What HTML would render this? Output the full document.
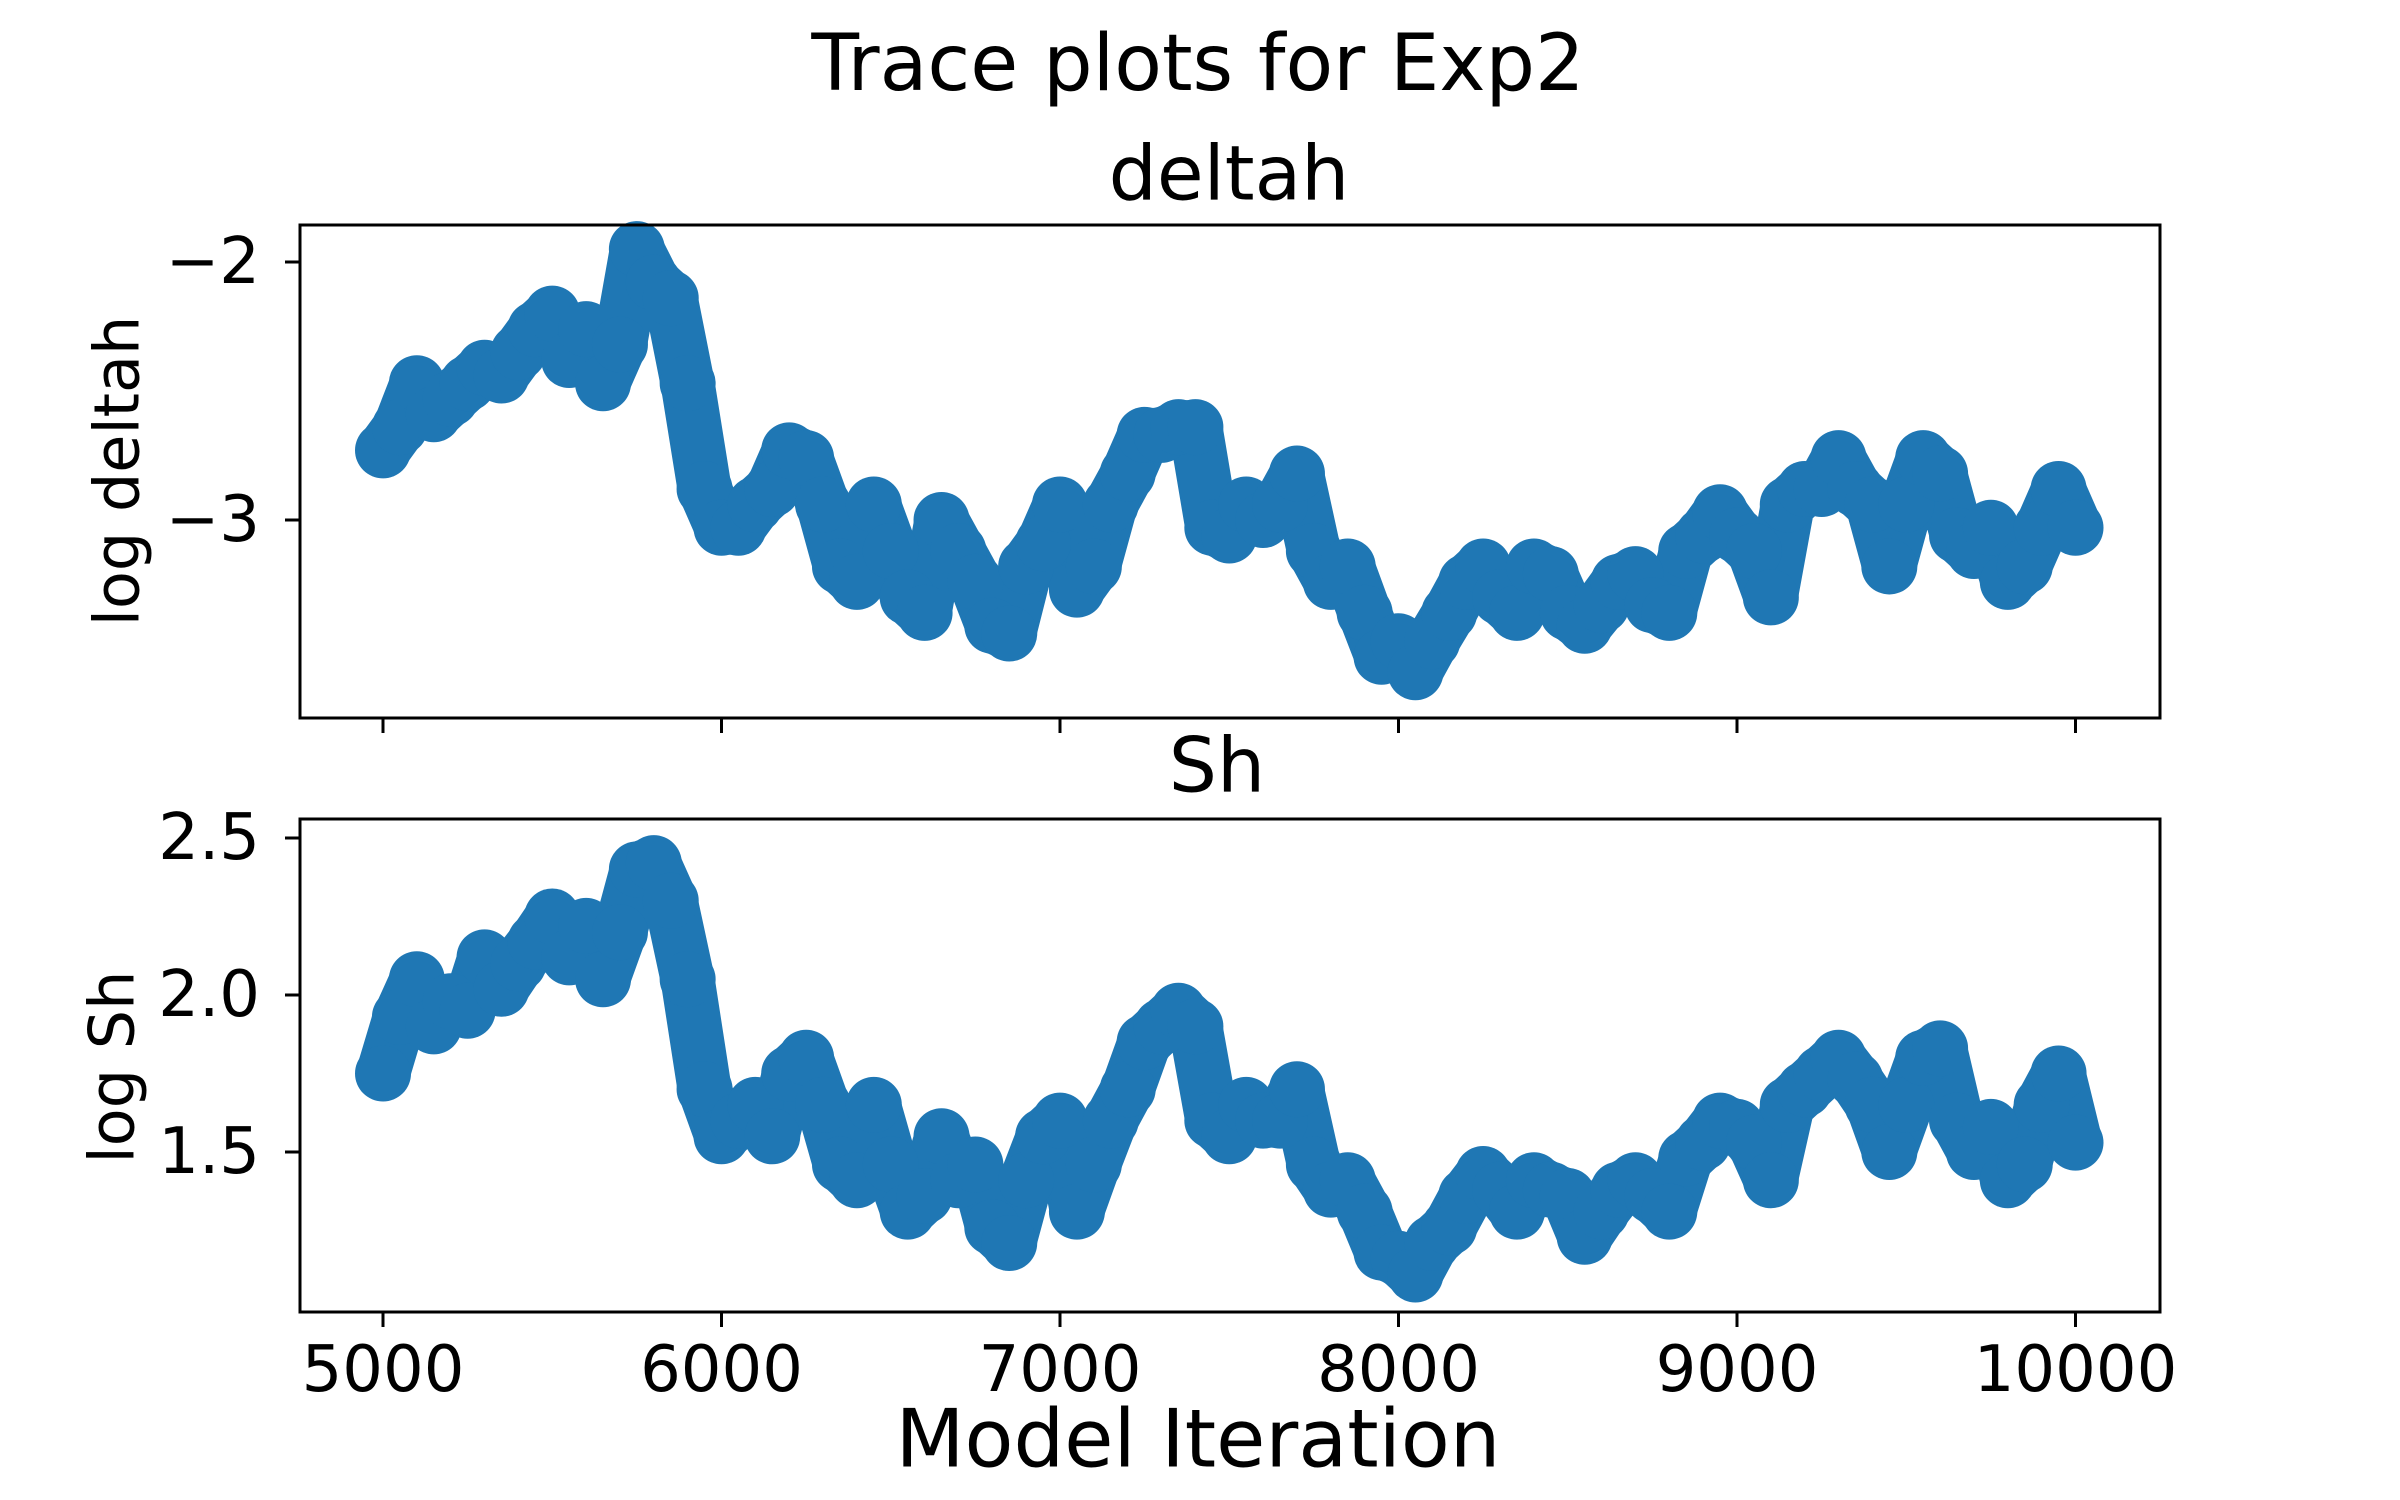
<!DOCTYPE html>
<html><head><meta charset="utf-8"><style>
html,body{margin:0;padding:0;background:#fff;}
svg{display:block;font-family:"DejaVu Sans","Liberation Sans",sans-serif;}
</style></head><body>
<svg id="chart" width="2400" height="1500" viewBox="0 0 2400 1500" xmlns="http://www.w3.org/2000/svg">
<rect width="2400" height="1500" fill="#fff"/>
<text x="1198" y="64" font-size="78" text-anchor="middle" dominant-baseline="central">Trace plots for Exp2</text>
<text x="1229" y="173" font-size="76" text-anchor="middle" dominant-baseline="central">deltah</text>
<text x="1217" y="765" font-size="76" text-anchor="middle" dominant-baseline="central">Sh</text>
<text x="0" y="0" font-size="62" text-anchor="middle" dominant-baseline="central" transform="translate(117,471) rotate(-90)">log deltah</text>
<text x="0" y="0" font-size="62" text-anchor="middle" dominant-baseline="central" transform="translate(112,1067) rotate(-90)">log Sh</text>
<text x="1198" y="1439" font-size="80" text-anchor="middle" dominant-baseline="central">Model Iteration</text>
<g id="top-panel"></g>
<g id="bottom-panel"></g>
</svg>
<script>
const iterations = [];
for (let i = 0; i <= 100; i++) iterations.push(5000 + 50 * i);
const deltahValues = [-2.73,-2.64,-2.47,-2.59,-2.53,-2.47,-2.41,-2.44,-2.35,-2.26,-2.20,-2.38,-2.26,-2.47,-2.32,-1.95,-2.08,-2.14,-2.47,-2.88,-3.03,-3.03,-2.94,-2.88,-2.73,-2.76,-2.94,-3.18,-3.24,-2.94,-3.12,-3.30,-3.36,-3.00,-3.12,-3.24,-3.41,-3.44,-3.18,-3.09,-2.94,-3.27,-3.18,-2.94,-2.82,-2.67,-2.67,-2.64,-2.64,-3.03,-3.06,-2.94,-3.00,-2.94,-2.82,-3.12,-3.24,-3.18,-3.36,-3.53,-3.47,-3.59,-3.47,-3.36,-3.24,-3.18,-3.30,-3.36,-3.18,-3.21,-3.36,-3.41,-3.33,-3.24,-3.21,-3.33,-3.36,-3.12,-3.06,-2.97,-3.06,-3.12,-3.30,-2.94,-2.88,-2.88,-2.76,-2.88,-2.94,-3.18,-2.94,-2.76,-2.82,-3.06,-3.12,-3.03,-3.24,-3.18,-3.03,-2.88,-3.03];
const shValues = [1.75,1.93,2.05,1.90,1.98,1.95,2.12,2.02,2.10,2.17,2.25,2.12,2.22,2.05,2.20,2.40,2.42,2.30,2.05,1.70,1.55,1.60,1.65,1.55,1.75,1.80,1.65,1.46,1.41,1.65,1.46,1.31,1.36,1.55,1.41,1.46,1.26,1.21,1.41,1.55,1.60,1.31,1.46,1.60,1.70,1.85,1.90,1.95,1.90,1.60,1.55,1.65,1.60,1.60,1.70,1.46,1.38,1.41,1.31,1.18,1.16,1.11,1.21,1.26,1.36,1.43,1.38,1.31,1.41,1.38,1.36,1.23,1.31,1.38,1.41,1.36,1.31,1.48,1.53,1.60,1.58,1.53,1.41,1.65,1.70,1.75,1.80,1.73,1.65,1.50,1.65,1.80,1.83,1.60,1.50,1.58,1.41,1.46,1.65,1.75,1.53];
const xTicks = [5000,6000,7000,8000,9000,10000];
const xTickLabels = ["5000","6000","7000","8000","9000","10000"];
const deltahTicks = [-2,-3];
const deltahTickLabels = ["\u22122","\u22123"];
const shTicks = [1.5,2.0,2.5];
const shTickLabels = ["1.5","2.0","2.5"];

const NS = "http://www.w3.org/2000/svg";
const X0 = 300, X1 = 2160;
const xScale = v => 383 + (v - 5000) * (2075.5 - 383) / 5000;
const yTop = v => 262 + (-2 - v) * 258;
const yBot = v => 995 - (v - 2) * 314;

function mk(tag, attrs, parent) {
  const e = document.createElementNS(NS, tag);
  for (const k in attrs) e.setAttribute(k, attrs[k]);
  parent.appendChild(e);
  return e;
}

function panel(g, top, bottom, values, yf, ticks, labels, showXLabels, nm) {
  let d = "";
  values.forEach((v, i) => { d += (i ? "L" : "M") + xScale(iterations[i]).toFixed(1) + " " + yf(v).toFixed(1); });
  const band = mk("path", {d: d, fill: "none", stroke: "#1f77b4", "stroke-width": 54, "stroke-linejoin": "round", "stroke-linecap": "round"}, g);
  
  
  values.forEach((v, i) => {
    const c = mk("circle", {cx: xScale(iterations[i]), cy: yf(v), r: 28, fill: "#1f77b4"}, g);
    
    
  });
  const box = mk("rect", {x: X0, y: top, width: X1 - X0, height: bottom - top, fill: "none", stroke: "#000", "stroke-width": 3}, g);
  
  
  xTicks.forEach((t, i) => {
    const x = xScale(t);
    const tk = mk("line", {x1: x, x2: x, y1: bottom, y2: bottom + 15, stroke: "#000", "stroke-width": 3}, g);
    
    
    if (showXLabels) {
      const tl = mk("text", {x: x, y: bottom + 58, "font-size": 64, "text-anchor": "middle", "dominant-baseline": "central"}, g);
      tl.textContent = xTickLabels[i];
      
      
    }
  });
  ticks.forEach((t, i) => {
    const y = yf(t);
    const tk = mk("line", {x1: X0 - 15, x2: X0, y1: y, y2: y, stroke: "#000", "stroke-width": 3}, g);
    
    
    const tl = mk("text", {x: X0 - 40, y: y, "font-size": 64, "text-anchor": "end", "dominant-baseline": "central"}, g);
    tl.textContent = labels[i];
    
    
  });
}
panel(document.getElementById("top-panel"), 225, 718, deltahValues, yTop, deltahTicks, deltahTickLabels, false, "deltah");
panel(document.getElementById("bottom-panel"), 819, 1312, shValues, yBot, shTicks, shTickLabels, true, "sh");
</script>
</body></html>
